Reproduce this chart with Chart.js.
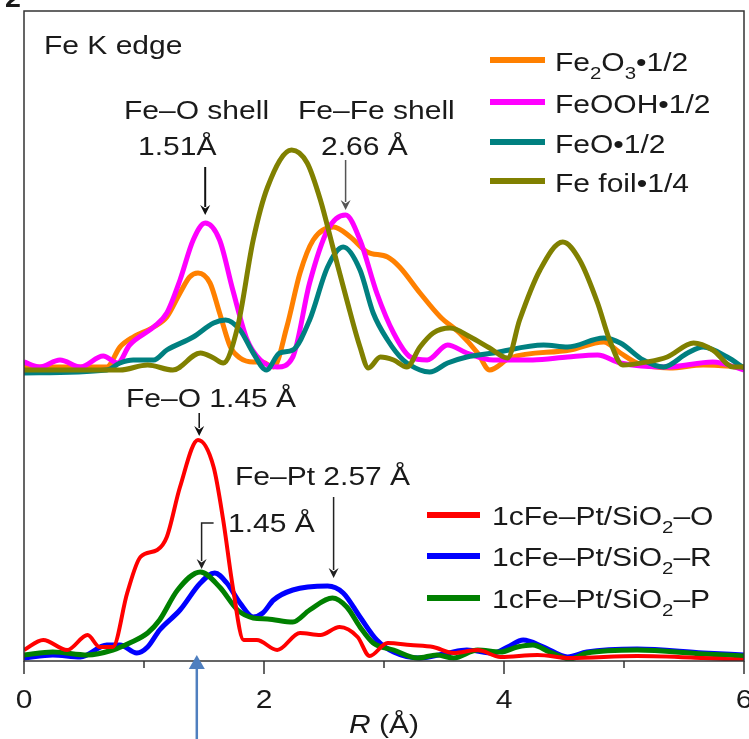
<!DOCTYPE html>
<html>
<head>
<meta charset="utf-8">
<script src="https://cdn.jsdelivr.net/npm/chart.js@4"></script>
<style>
  html, body { margin: 0; padding: 0; background: #fff; }
  #wrap { width: 749px; height: 739px; position: relative; }
</style>
</head>
<body>
<div id="wrap"><canvas id="ftChart"></canvas></div>
<script>
// ─── Data: Fourier-transformed EXAFS, R in Å, stacked magnitude ───────────────
const xTicks = [0, 2, 4, 6];
const xMinorTicks = [1, 3, 5];

// reference compounds (offset upward)
const fe2o3R = [0, 0.69, 0.80, 0.91, 1.08, 1.19, 1.30, 1.38, 1.45, 1.55, 1.63, 1.72, 1.80, 1.91, 1.98, 2.08, 2.19, 2.30, 2.41, 2.58, 2.72, 2.86, 3.03, 3.13, 3.30, 3.47, 3.63, 3.78, 3.88, 4.05, 4.55, 4.83, 4.97, 5.11, 5.38, 5.66, 6.0];
const fe2o3V = [2.94, 2.94, 3.14, 3.24, 3.34, 3.44, 3.68, 3.84, 3.88, 3.78, 3.48, 3.14, 3.03, 2.99, 2.99, 2.94, 3.34, 3.88, 4.21, 4.34, 4.24, 4.09, 4.04, 3.94, 3.68, 3.44, 3.28, 3.08, 2.91, 3.03, 3.11, 3.19, 3.08, 2.98, 2.93, 2.96, 2.94];

const feoohR = [0, 0.13, 0.30, 0.47, 0.66, 0.78, 0.88, 1.08, 1.19, 1.30, 1.41, 1.51, 1.63, 1.74, 1.86, 1.97, 2.11, 2.24, 2.38, 2.53, 2.68, 2.80, 2.94, 3.08, 3.22, 3.36, 3.53, 3.69, 3.91, 4.24, 4.53, 4.78, 4.97, 5.36, 5.74, 6.0];
const feoohV = [2.99, 2.94, 3.01, 2.94, 3.05, 2.98, 3.16, 3.34, 3.48, 3.81, 4.21, 4.38, 4.21, 3.71, 3.21, 3.01, 2.94, 3.04, 3.78, 4.31, 4.46, 4.21, 3.68, 3.28, 3.04, 3.01, 3.16, 3.08, 3.01, 3.01, 3.04, 3.06, 2.98, 2.94, 2.99, 2.91];

const feoR = [0, 0.69, 0.80, 0.91, 1.08, 1.19, 1.41, 1.58, 1.68, 1.80, 1.91, 2.02, 2.13, 2.24, 2.38, 2.53, 2.66, 2.80, 2.91, 3.03, 3.16, 3.30, 3.38, 3.53, 3.69, 3.91, 4.33, 4.53, 4.83, 4.97, 5.16, 5.33, 5.53, 5.66, 5.86, 6.0];
const feoV = [2.88, 2.91, 2.98, 3.01, 3.01, 3.11, 3.24, 3.38, 3.41, 3.31, 3.08, 2.91, 3.08, 3.11, 3.41, 3.94, 4.14, 3.91, 3.48, 3.21, 3.01, 2.91, 2.89, 2.98, 3.04, 3.08, 3.16, 3.14, 3.23, 3.18, 3.01, 2.94, 3.08, 3.14, 3.04, 2.93];

const feFoilR = [0, 0.80, 1.03, 1.24, 1.47, 1.58, 1.66, 1.78, 1.91, 2.03, 2.23, 2.36, 2.47, 2.58, 2.69, 2.80, 2.87, 2.97, 3.08, 3.19, 3.30, 3.41, 3.55, 3.72, 3.88, 4.03, 4.13, 4.30, 4.49, 4.63, 4.78, 4.88, 4.99, 5.19, 5.36, 5.58, 5.74, 5.91, 6.0];
const feFoilV = [2.91, 2.91, 2.96, 2.91, 3.08, 3.03, 2.98, 3.34, 4.21, 4.74, 5.11, 4.98, 4.61, 4.11, 3.61, 3.14, 2.93, 3.04, 3.01, 2.94, 3.14, 3.28, 3.33, 3.24, 3.13, 3.03, 3.41, 3.91, 4.19, 4.01, 3.58, 3.21, 2.96, 2.99, 3.04, 3.18, 3.11, 2.94, 2.94];

// 1cFe–Pt/SiO2 samples
const sampleOR = [0, 0.16, 0.36, 0.53, 0.63, 0.74, 0.86, 0.97, 1.11, 1.19, 1.30, 1.45, 1.58, 1.66, 1.74, 1.83, 1.94, 2.11, 2.30, 2.47, 2.63, 2.78, 2.88, 3.03, 3.22, 3.41, 3.58, 3.78, 3.97, 4.28, 4.55, 5.11, 5.66, 6.0];
const sampleOV = [0.11, 0.21, 0.11, 0.26, 0.14, 0.14, 0.68, 1.04, 1.11, 1.24, 1.74, 2.21, 1.94, 1.41, 0.74, 0.21, 0.21, 0.11, 0.28, 0.26, 0.34, 0.24, 0.05, 0.18, 0.16, 0.14, 0.08, 0.11, 0.04, 0.06, 0.03, 0.05, 0.03, 0.01];

const sampleRR = [0, 0.24, 0.47, 0.69, 0.80, 0.94, 1.03, 1.13, 1.30, 1.47, 1.59, 1.69, 1.80, 1.91, 1.99, 2.08, 2.24, 2.53, 2.66, 2.80, 2.94, 3.08, 3.30, 3.53, 3.69, 3.91, 4.03, 4.16, 4.33, 4.53, 4.69, 5.11, 5.66, 6.0];
const sampleRV = [0.03, 0.06, 0.04, 0.16, 0.16, 0.08, 0.14, 0.31, 0.51, 0.78, 0.88, 0.78, 0.58, 0.44, 0.48, 0.61, 0.71, 0.75, 0.68, 0.44, 0.21, 0.09, 0.03, 0.08, 0.11, 0.08, 0.14, 0.21, 0.14, 0.04, 0.09, 0.12, 0.08, 0.06];

const samplePR = [0, 0.24, 0.53, 0.74, 0.88, 1.03, 1.13, 1.28, 1.47, 1.63, 1.78, 1.91, 2.03, 2.24, 2.38, 2.57, 2.69, 2.80, 2.91, 3.08, 3.28, 3.44, 3.58, 3.78, 3.97, 4.11, 4.24, 4.38, 4.55, 4.69, 5.11, 5.66, 6.0];
const samplePV = [0.06, 0.09, 0.06, 0.11, 0.18, 0.28, 0.41, 0.71, 0.89, 0.74, 0.51, 0.43, 0.42, 0.39, 0.51, 0.63, 0.54, 0.34, 0.18, 0.11, 0.03, 0.06, 0.03, 0.11, 0.09, 0.14, 0.16, 0.09, 0.02, 0.08, 0.11, 0.07, 0.05];

// ─── Palette ──────────────────────────────────────────────────────────────────
const COLORS = {
    fe2o3: '#ff8000',
    feooh: '#ff00ff',
    feo: '#008080',
    feFoil: '#808000',
    sampleO: '#ff0000',
    sampleR: '#0000ff',
    sampleP: '#008000',
    frame: '#333333',
    text: '#1a1a1a',
    marker: '#4f7fbf',
};
const FONT = "'Liberation Sans', Arial, sans-serif";
const TEXT_SIZE = 25;
const TEXT_SX = 1.2;

function zip(xs, ys) {
    return xs.map((x, i) => ({ x: x, y: ys[i] }));
}

function series(label, xs, ys, color, width, order) {
    return {
        label: label,
        data: zip(xs, ys),
        borderColor: color,
        backgroundColor: color,
        borderWidth: width,
        pointRadius: 0,
        cubicInterpolationMode: 'monotone',
        order: order,
    };
}

// text with optional subscripts, stretched a little horizontally
function drawRich(ctx, parts, x, y, size, opts) {
    opts = opts || {};
    const sx = opts.sx || TEXT_SX;
    ctx.save();
    ctx.fillStyle = opts.color || COLORS.text;
    ctx.textBaseline = 'alphabetic';
    ctx.textAlign = 'left';
    let total = 0;
    parts.forEach(p => {
        const sub = typeof p !== 'string';
        ctx.font = `${opts.style || ''} ${sub ? size * 0.68 : size}px ${FONT}`;
        total += ctx.measureText(sub ? p.sub : p).width;
    });
    let startX = x;
    if (opts.align === 'center') startX = x - total * sx / 2;
    ctx.translate(startX, y);
    ctx.scale(sx, 1);
    let cx = 0;
    parts.forEach(p => {
        const sub = typeof p !== 'string';
        const txt = sub ? p.sub : p;
        ctx.font = `${opts.style || ''} ${sub ? size * 0.68 : size}px ${FONT}`;
        ctx.fillText(txt, cx, sub ? size * 0.3 : 0);
        cx += ctx.measureText(txt).width;
    });
    ctx.restore();
}

function drawArrow(ctx, pts, color, width) {
    ctx.save();
    ctx.strokeStyle = color;
    ctx.fillStyle = color;
    ctx.lineWidth = width;
    const n = pts.length;
    const [tx, ty] = pts[n - 1];
    const [px, py] = pts[n - 2];
    const ang = Math.atan2(ty - py, tx - px);
    const head = 10, half = 5;
    ctx.beginPath();
    ctx.moveTo(pts[0][0], pts[0][1]);
    for (let i = 1; i < n - 1; i++) ctx.lineTo(pts[i][0], pts[i][1]);
    ctx.lineTo(tx - Math.cos(ang) * head * 0.8, ty - Math.sin(ang) * head * 0.8);
    ctx.stroke();
    ctx.beginPath();
    ctx.moveTo(tx, ty);
    ctx.lineTo(tx - Math.cos(ang) * head - Math.sin(ang) * half, ty - Math.sin(ang) * head + Math.cos(ang) * half);
    ctx.lineTo(tx - Math.cos(ang) * head * 0.65, ty - Math.sin(ang) * head * 0.65);
    ctx.lineTo(tx - Math.cos(ang) * head + Math.sin(ang) * half, ty - Math.sin(ang) * head - Math.cos(ang) * half);
    ctx.closePath();
    ctx.fill();
    ctx.restore();
}

// ─── Frame, ticks, labels, legends and annotations ───────────────────────────
const decorations = {
    id: 'decorations',
    afterDatasetsDraw(chart) {
        const ctx = chart.ctx;
        const area = chart.chartArea;
        const xs = chart.scales.x;
        const ds = chart.data.datasets;

        // box frame
        ctx.save();
        ctx.strokeStyle = COLORS.frame;
        ctx.lineWidth = 1.5;
        ctx.strokeRect(area.left, area.top, area.right - area.left, area.bottom - area.top);

        // ticks below the axis
        xTicks.forEach(v => {
            const px = xs.getPixelForValue(v);
            ctx.beginPath();
            ctx.moveTo(px, area.bottom);
            ctx.lineTo(px, area.bottom + 13);
            ctx.stroke();
        });
        xMinorTicks.forEach(v => {
            const px = xs.getPixelForValue(v);
            ctx.beginPath();
            ctx.moveTo(px, area.bottom);
            ctx.lineTo(px, area.bottom + 7);
            ctx.stroke();
        });
        ctx.restore();

        xTicks.forEach(v => {
            drawRich(ctx, [String(v)], xs.getPixelForValue(v), area.bottom + 47, TEXT_SIZE, { align: 'center' });
        });

        // axis title, italic R
        ctx.save();
        const titleY = 733;
        ctx.font = `italic ${TEXT_SIZE}px ${FONT}`;
        const rw = ctx.measureText('R').width * TEXT_SX;
        ctx.font = `${TEXT_SIZE}px ${FONT}`;
        const restW = ctx.measureText(' (Å)').width * TEXT_SX;
        const tx0 = (area.left + area.right) / 2 - (rw + restW) / 2;
        ctx.restore();
        drawRich(ctx, ['R'], tx0, titleY, TEXT_SIZE, { style: 'italic' });
        drawRich(ctx, [' (Å)'], tx0 + rw, titleY, TEXT_SIZE);

        // panel letter, cropped at the top edge
        drawRich(ctx, ['2'], 5, 7, 26, { style: 'bold', sx: 1.1 });

        drawRich(ctx, ['Fe K edge'], 44, 54, TEXT_SIZE);

        // top legend
        const topLegend = [
            { ds: 0, parts: ['Fe', { sub: '2' }, 'O', { sub: '3' }, '•1/2'], y: 60 },
            { ds: 1, parts: ['FeOOH•1/2'], y: 102 },
            { ds: 2, parts: ['FeO•1/2'], y: 142 },
            { ds: 3, parts: ['Fe foil•1/4'], y: 181 },
        ];
        topLegend.forEach(item => {
            ctx.save();
            ctx.strokeStyle = ds[item.ds].borderColor;
            ctx.lineWidth = 6;
            ctx.beginPath();
            ctx.moveTo(490, item.y);
            ctx.lineTo(545, item.y);
            ctx.stroke();
            ctx.restore();
            drawRich(ctx, item.parts, 555, item.y + 11, TEXT_SIZE);
        });

        // bottom legend
        const bottomLegend = [
            { ds: 4, suffix: '–O', y: 515 },
            { ds: 5, suffix: '–R', y: 556 },
            { ds: 6, suffix: '–P', y: 598 },
        ];
        bottomLegend.forEach(item => {
            ctx.save();
            ctx.strokeStyle = ds[item.ds].borderColor;
            ctx.lineWidth = 6;
            ctx.beginPath();
            ctx.moveTo(427, item.y);
            ctx.lineTo(480, item.y);
            ctx.stroke();
            ctx.restore();
            drawRich(ctx, ['1cFe–Pt/SiO', { sub: '2' }, item.suffix], 492, item.y + 10, TEXT_SIZE);
        });

        // shell annotations
        drawRich(ctx, ['Fe–O shell'], 124, 119, TEXT_SIZE);
        drawRich(ctx, ['1.51Å'], 138, 155, TEXT_SIZE);
        drawArrow(ctx, [[xs.getPixelForValue(1.51), 167], [xs.getPixelForValue(1.51), 215]], '#111', 2);

        drawRich(ctx, ['Fe–Fe shell'], 298, 119, TEXT_SIZE);
        drawRich(ctx, ['2.66 Å'], 321, 155, TEXT_SIZE);
        drawArrow(ctx, [[xs.getPixelForValue(2.68), 160], [xs.getPixelForValue(2.68), 210]], '#555', 1.5);

        drawRich(ctx, ['Fe–O 1.45 Å'], 126, 407, TEXT_SIZE);
        drawArrow(ctx, [[xs.getPixelForValue(1.46), 413], [xs.getPixelForValue(1.46), 436]], '#111', 1.5);

        drawRich(ctx, ['Fe–Pt 2.57 Å'], 235, 485, TEXT_SIZE);
        drawArrow(ctx, [[xs.getPixelForValue(2.58), 497], [xs.getPixelForValue(2.58), 578]], '#222', 1.5);

        drawRich(ctx, ['1.45 Å'], 228, 532, TEXT_SIZE);
        const bx = xs.getPixelForValue(1.48);
        drawArrow(ctx, [[bx + 12, 523], [bx, 523], [bx, 569]], '#222', 1.5);

        // marker arrow pointing up at the Fe–O position
        ctx.save();
        const mx = xs.getPixelForValue(1.44);
        ctx.strokeStyle = COLORS.marker;
        ctx.fillStyle = COLORS.marker;
        ctx.lineWidth = 2.5;
        ctx.beginPath();
        ctx.moveTo(mx, 666);
        ctx.lineTo(mx, 739);
        ctx.stroke();
        ctx.beginPath();
        ctx.moveTo(mx, 655);
        ctx.lineTo(mx - 8, 669);
        ctx.lineTo(mx + 8, 669);
        ctx.closePath();
        ctx.fill();
        ctx.restore();
    }
};

new Chart(document.getElementById('ftChart'), {
    type: 'line',
    data: {
        datasets: [
            series('Fe2O3•1/2', fe2o3R, fe2o3V, COLORS.fe2o3, 5, 6),
            series('FeOOH•1/2', feoohR, feoohV, COLORS.feooh, 5, 5),
            series('FeO•1/2', feoR, feoV, COLORS.feo, 5, 4),
            series('Fe foil•1/4', feFoilR, feFoilV, COLORS.feFoil, 5, 3),
            series('1cFe–Pt/SiO2–O', sampleOR, sampleOV, COLORS.sampleO, 4, 0),
            series('1cFe–Pt/SiO2–R', sampleRR, sampleRV, COLORS.sampleR, 5, 2),
            series('1cFe–Pt/SiO2–P', samplePR, samplePV, COLORS.sampleP, 5, 1),
        ]
    },
    options: {
        responsive: true,
        maintainAspectRatio: false,
        animation: false,
        layout: { padding: { left: 24, right: 5, top: 11, bottom: 78 } },
        plugins: {
            legend: { display: false },
            tooltip: { enabled: false },
        },
        scales: {
            x: { type: 'linear', min: 0, max: 6, display: false },
            y: { type: 'linear', min: 0, max: 6.5, display: false },
        }
    },
    plugins: [decorations]
});
</script>
</body>
</html>
